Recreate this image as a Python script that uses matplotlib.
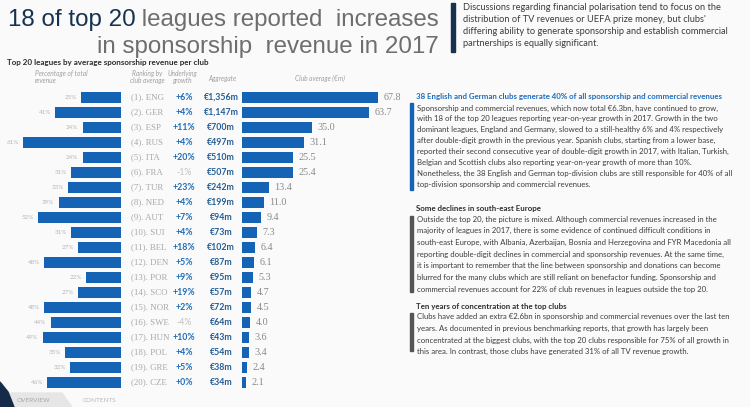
import matplotlib.pyplot as plt
from matplotlib.patches import Polygon, Rectangle

leagues = ["ENG", "GER", "ESP", "RUS", "ITA", "FRA", "TUR", "NED", "AUT", "SUI",
           "BEL", "DEN", "POR", "SCO", "NOR", "SWE", "HUN", "POL", "GRE", "CZE"]
pct_of_revenue = [25, 41, 24, 61, 24, 31, 33, 39, 52, 31,
                  27, 48, 22, 27, 48, 44, 49, 35, 32, 46]
growth = [6, 4, 11, 4, 20, -1, 23, 4, 7, 4,
          18, 5, 9, 19, 2, -4, 10, 4, 5, 0]
aggregate = [1356, 1147, 700, 497, 510, 507, 242, 199, 94, 73,
             102, 87, 95, 57, 72, 64, 43, 54, 38, 34]
club_avg = [67.8, 63.7, 35.0, 31.1, 25.5, 25.4, 13.4, 11.0, 9.4, 7.3,
            6.4, 6.1, 5.3, 4.7, 4.5, 4.0, 3.6, 3.4, 2.4, 2.1]

intro_lines = [
    "Discussions regarding financial polarisation tend to focus on the",
    "distribution of TV revenues or UEFA prize money, but clubs'",
    "differing ability to generate sponsorship and establish commercial",
    "partnerships is equally significant.",
]
sec1_title = "38 English and German clubs generate 40% of all sponsorship and commercial revenues"
sec1_lines = [
    "Sponsorship and commercial revenues, which now total €6.3bn, have continued to grow,",
    "with 18 of the top 20 leagues reporting year-on-year growth in 2017. Growth in the two",
    "dominant leagues, England and Germany, slowed to a still-healthy 6% and 4% respectively",
    "after double-digit growth in the previous year. Spanish clubs, starting from a lower base,",
    "reported their second consecutive year of double-digit growth in 2017, with Italian, Turkish,",
    "Belgian and Scottish clubs also reporting year-on-year growth of more than 10%.",
    "Nonetheless, the 38 English and German top-division clubs are still responsible for 40% of all",
    "top-division sponsorship and commercial revenues.",
]
sec2_title = "Some declines in south-east Europe"
sec2_lines = [
    "Outside the top 20, the picture is mixed. Although commercial revenues increased in the",
    "majority of leagues in 2017, there is some evidence of continued difficult conditions in",
    "south-east Europe, with Albania, Azerbaijan, Bosnia and Herzegovina and FYR Macedonia all",
    "reporting double-digit declines in commercial and sponsorship revenues. At the same time,",
    "it is important to remember that the line between sponsorship and donations can become",
    "blurred for the many clubs which are still reliant on benefactor funding. Sponsorship and",
    "commercial revenues account for 22% of club revenues in leagues outside the top 20.",
]
sec3_title = "Ten years of concentration at the top clubs"
sec3_lines = [
    "Clubs have added an extra €2.6bn in sponsorship and commercial revenues over the last ten",
    "years. As documented in previous benchmarking reports, that growth has largely been",
    "concentrated at the biggest clubs, with the top 20 clubs responsible for 75% of all growth in",
    "this area. In contrast, those clubs have generated 31% of all TV revenue growth.",
]

BLUE = "#1463B4"
NAVY = "#17324F"
GREY = "#6E6E6E"
SANS = "Lato"
SERIF = "Liberation Serif"

W, H = 750, 407
fig = plt.figure(figsize=(7.5, 4.07), dpi=100)
fig.patch.set_facecolor("#FAFAFA")

# full-figure axes in pixel units for free text and decorations
bg = fig.add_axes([0, 0, 1, 1])
bg.set_xlim(0, W)
bg.set_ylim(H, 0)
bg.axis("off")

row0, row_step = 97.3, 15.02
n = len(leagues)
top_px = row0 - row_step / 2
height_px = row_step * n


def axes_box(x0, x1):
    return [x0 / W, 1 - (top_px + height_px) / H, (x1 - x0) / W, height_px / H]


# left bars: percentage of total revenue, growing leftwards
ax_pct = fig.add_axes(axes_box(0, 121))
ax_pct.barh(range(n), pct_of_revenue, height=0.72, color=BLUE)
ax_pct.set_xlim(121 / 1.6, 0)
ax_pct.set_ylim(n - 0.5, -0.5)
ax_pct.axis("off")
for i, v in enumerate(pct_of_revenue):
    ax_pct.annotate(f"{v}%", (v, i), xytext=(-3, 0), textcoords="offset points",
                    ha="right", va="center", fontsize=4.5, color="#B8B8B8",
                    family=SANS)

# right bars: club average
ax_avg = fig.add_axes(axes_box(242, 405))
ax_avg.barh(range(n), club_avg, height=0.72, color=BLUE)
ax_avg.set_xlim(0, 163 / 2.0)
ax_avg.set_ylim(n - 0.5, -0.5)
ax_avg.axis("off")
for i, v in enumerate(club_avg):
    ax_avg.annotate(f"{v:.1f}", (v, i), xytext=(4, 0), textcoords="offset points",
                    ha="left", va="center", fontsize=7.3, color="#8A8A8A",
                    family=SERIF)

# middle columns
for i in range(n):
    y = row0 + i * row_step
    bg.text(131, y, f"({i + 1}). {leagues[i]}", ha="left", va="center",
            fontsize=6.4, color="#A8A8A8", family=SERIF)
    g = growth[i]
    gtxt = f"-{abs(g)}%" if g < 0 else f"+{g}%"
    bg.text(184, y, gtxt, ha="center", va="center", fontsize=6.3,
            color="#C0C0C0" if g < 0 else "#1F6DB8",
            fontweight="normal" if g < 0 else "bold", family=SANS)
    bg.text(221, y, f"€{aggregate[i]:,}m", ha="center", va="center",
            fontsize=6.3, color="#245E96", fontweight="bold", family=SANS)

# column headers
hdr = dict(fontsize=4.8, color="#A0A0A0", style="italic", family=SANS, va="center")
bg.text(35, 77, "Percentage of total\nrevenue", ha="left", linespacing=1.1, **hdr)
bg.text(147, 77, "Ranking by\nclub average", ha="center", linespacing=1.1, **hdr)
bg.text(182, 77, "Underlying\ngrowth", ha="center", linespacing=1.1, **hdr)
bg.text(222, 78, "Aggregate", ha="center", **hdr)
bg.text(320, 78, "Club average (€m)", ha="center", **hdr)

bg.text(7, 63, "Top 20 leagues by average sponsorship revenue per club", ha="left",
        va="center", fontsize=5.8, fontweight="bold", color="#2B2B2B", family=SANS)

# main title (right aligned, two-tone first line)
fig.canvas.draw()
r = fig.canvas.get_renderer()
t_rest = bg.text(439, 26, " leagues reported  increases", ha="right", va="baseline",
                 fontsize=17.4, color=GREY, family="Liberation Sans")
w_rest = t_rest.get_window_extent(renderer=r).width
bg.text(439 - w_rest, 26, "18 of top 20", ha="right", va="baseline",
        fontsize=17.4, color=NAVY, family="Liberation Sans")
bg.text(439, 53, "in sponsorship  revenue in 2017", ha="right", va="baseline",
        fontsize=17.4, color=GREY, family="Liberation Sans")

bg.add_patch(Rectangle((451, 3), 4, 49, color=NAVY))

body = dict(fontsize=5.6, color="#3C3C3C", family=SANS, ha="left", va="center")


def para(x, y0, lines, step, size=5.6):
    for k, line in enumerate(lines):
        bg.text(x, y0 + k * step, line, **{**body, "fontsize": size})


para(463, 8, intro_lines, 11.8, size=6.7)

bg.text(416, 96, sec1_title, ha="left", va="center", fontsize=5.65,
        fontweight="bold", color="#1D6DBE", family=SANS)
bg.add_patch(Rectangle((410, 103), 3, 87, color=BLUE))
para(417, 108, sec1_lines, 10.9)

bg.text(416, 208, sec2_title, ha="left", va="center", fontsize=5.65,
        fontweight="bold", color="#2E2E2E", family=SANS)
bg.add_patch(Rectangle((410, 216), 3, 76, color="#555555"))
para(417, 219, sec2_lines, 11.7)

bg.text(416, 307, sec3_title, ha="left", va="center", fontsize=5.65,
        fontweight="bold", color="#2E2E2E", family=SANS)
bg.add_patch(Rectangle((410, 313), 3, 38, color="#555555"))
para(417, 317, sec3_lines, 11.5)

# bottom navigation tabs
bg.add_patch(Polygon([(0, 393), (62, 393), (72, 407), (0, 407)], color="#E6E6E6"))
bg.add_patch(Polygon([(0, 382), (8, 392), (14, 407), (0, 407)], color="#152B49"))
bg.text(34, 401, "OVERVIEW", ha="center", va="center", fontsize=4.6,
        color="#A8A8A8", family=SANS)
bg.text(100, 401, "CONTENTS", ha="center", va="center", fontsize=4.6,
        color="#B8B8B8", family=SANS)

fig.savefig("out.png", dpi=100, facecolor=fig.get_facecolor())
